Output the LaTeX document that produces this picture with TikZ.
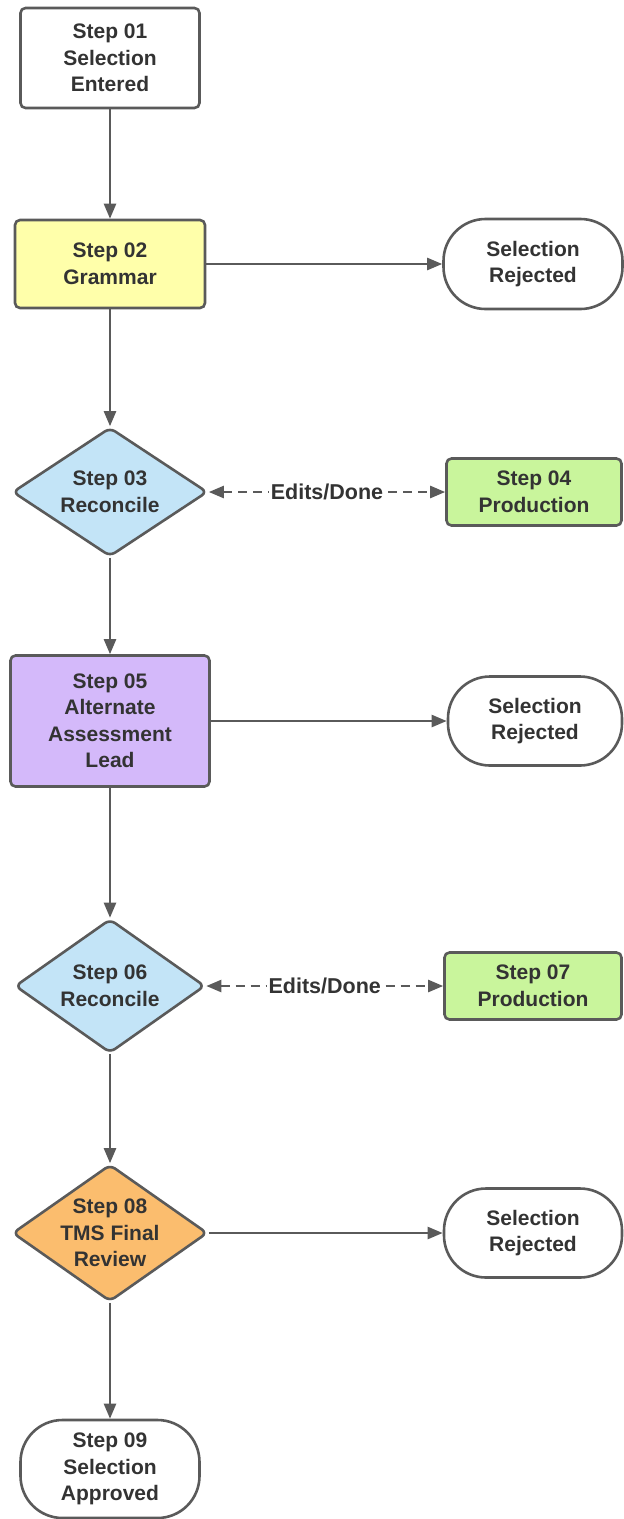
\documentclass[tikz,border=0pt]{standalone}
\usepackage{fontspec}
\setmainfont{Liberation Sans}
\usetikzlibrary{shapes.geometric,arrows.meta}

\definecolor{edgegray}{HTML}{5A5A5A}
\definecolor{inkgray}{HTML}{333333}
\definecolor{fillyellow}{HTML}{FFFFAA}
\definecolor{fillblue}{HTML}{C3E4F7}
\definecolor{fillgreen}{HTML}{C9F59C}
\definecolor{fillpurple}{HTML}{D4B9FA}
\definecolor{fillorange}{HTML}{FBBD6E}

\tikzset{
  base/.style={draw=edgegray, line width=2.6pt, text=inkgray, align=center,
    inner sep=0pt, font=\bfseries\fontsize{21}{26.5}\selectfont},
  box/.style={base, rectangle, rounded corners=5pt},
  term/.style={base, rectangle, rounded corners=42pt, fill=white},
  dia/.style={base, diamond, rounded corners=6pt},
  lbl/.style={text=inkgray, align=center, inner sep=0pt,
    font=\bfseries\fontsize{21}{26.5}\selectfont},
  flow/.style={draw=edgegray, line width=2.4pt,
    -{Triangle[length=15pt,width=12pt]}},
  loop/.style={draw=edgegray, line width=2.4pt, dash pattern=on 9pt off 6pt,
    {Triangle[length=15pt,width=12pt]}-{Triangle[length=15pt,width=12pt]}},
  tag/.style={fill=white, text=inkgray, inner xsep=2pt, inner ysep=1pt,
    font=\bfseries\fontsize{21.5}{24}\selectfont}
}

\begin{document}
\begin{tikzpicture}[x=1pt,y=-1pt]
\useasboundingbox (0,0) rectangle (624,1519);

% main column
\node[box, fill=white, minimum width=179pt, minimum height=100pt] (s01) at (110,58)
  {Step 01\\Selection\\Entered};
\node[box, fill=fillyellow, minimum width=190pt, minimum height=88pt] (s02) at (110,264)
  {Step 02\\Grammar};
\node[dia, fill=fillblue, minimum width=195pt, minimum height=129pt] (d03) at (110,492) {};
\node[lbl] at (d03) {Step 03\\Reconcile};
\node[box, fill=fillpurple, minimum width=199pt, minimum height=131pt] (s05) at (110,721)
  {Step 05\\Alternate\\Assessment\\Lead};
\node[dia, fill=fillblue, minimum width=190pt, minimum height=134pt] (d06) at (110,986) {};
\node[lbl] at (d06) {Step 06\\Reconcile};
\node[dia, fill=fillorange, minimum width=195pt, minimum height=137pt] (d08) at (110,1233) {};
\node[lbl] at (d08) {Step 08\\TMS Final\\Review};
\node[term, minimum width=179pt, minimum height=98pt] (s09) at (110,1469)
  {Step 09\\Selection\\Approved};

% right column
\node[term, minimum width=179pt, minimum height=90pt] (r1) at (533,264)
  {Selection\\Rejected};
\node[box, fill=fillgreen, minimum width=175pt, minimum height=67pt] (s04) at (534,492)
  {Step 04\\Production};
\node[term, minimum width=174pt, minimum height=89pt] (r2) at (535,721)
  {Selection\\Rejected};
\node[box, fill=fillgreen, minimum width=177pt, minimum height=67pt] (s07) at (533,986)
  {Step 07\\Production};
\node[term, minimum width=178pt, minimum height=89pt] (r3) at (533,1233)
  {Selection\\Rejected};

% vertical flow
\draw[flow] (s01) -- (s02);
\draw[flow] (s02) -- (d03);
\draw[flow] (d03) -- (s05);
\draw[flow] (s05) -- (d06);
\draw[flow] (d06) -- (d08);
\draw[flow] (d08) -- (s09);

% branches
\draw[flow] (s02) -- (r1);
\draw[flow] (s05) -- (r2);
\draw[flow] (d08) -- (r3);
\draw[loop] (d03) -- node[tag] (e1) {Edits/Done} (s04);
\draw[loop] (d06) -- node[tag] (e2) {Edits/Done} (s07);
\end{tikzpicture}
\end{document}
